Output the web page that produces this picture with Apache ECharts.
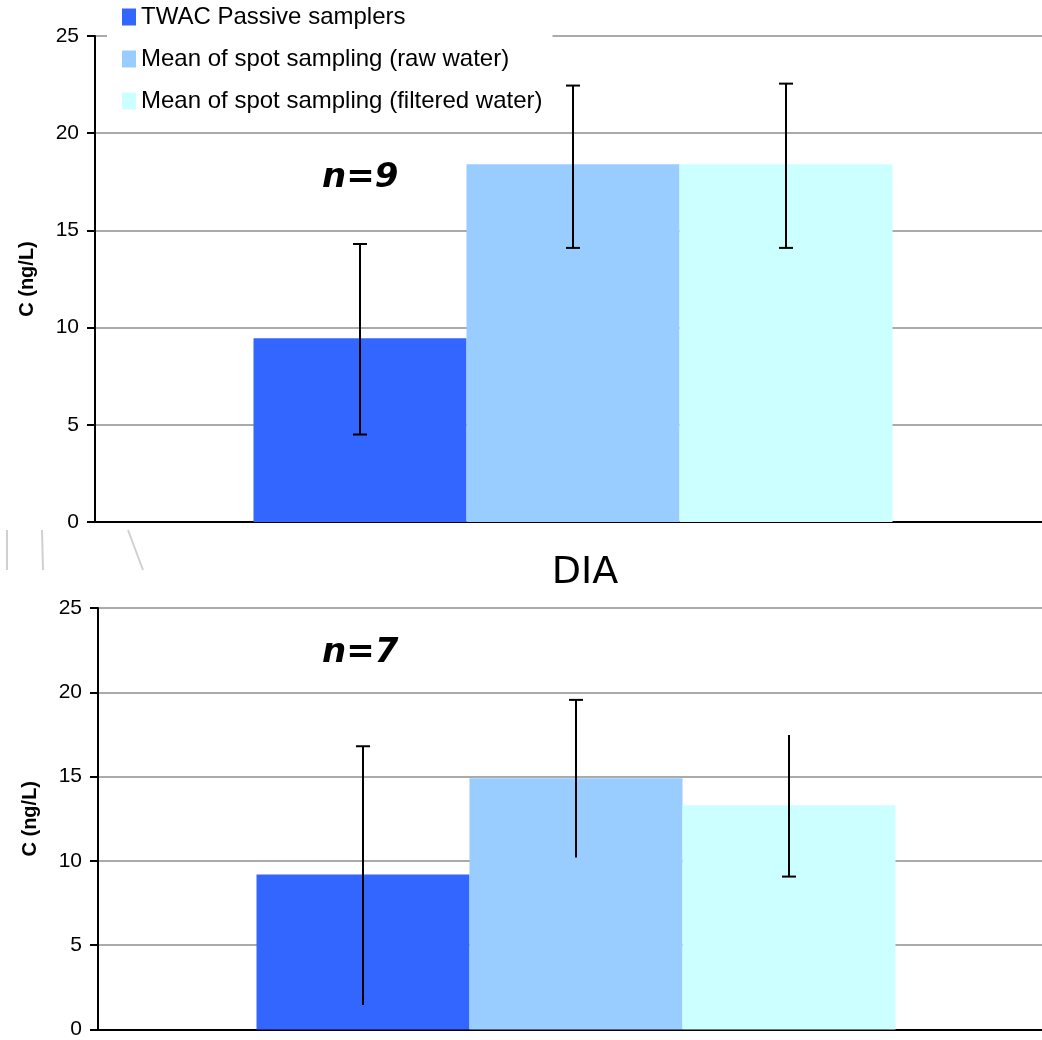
<!DOCTYPE html>
<html>
<head>
<meta charset="utf-8">
<script src="https://cdn.jsdelivr.net/npm/echarts@6/dist/echarts.min.js"></script>
<style>
  html, body { margin: 0; padding: 0; background: #fff; overflow: hidden; }
  body { width: 1042px; height: 1040px; }
  /* the plot area runs a little past the right edge of the page */
  #chart { width: 1080px; height: 1040px; }
</style>
</head>
<body>
<div id="chart"></div>
<script>
// Series shown in both panels
const seriesNames = [
  'TWAC Passive samplers',
  'Mean of spot sampling (raw water)',
  'Mean of spot sampling (filtered water)'
];
const yTicks = [0, 5, 10, 15, 20, 25];

// Upper panel (n=9)
const upperCategory = [''];
const upperMeans = [9.45, 18.4, 18.4];
const upperLow   = [4.5, 14.1, 14.1];
const upperHigh  = [14.3, 22.45, 22.55];
const upperCount = 'n=9';

// Lower panel: DIA (n=7)
const lowerTitle = 'DIA';
const lowerCategory = ['DIA'];
const lowerMeans = [9.2, 14.9, 13.3];
const lowerLow   = [1.46, 10.2, 9.07];
const lowerHigh  = [16.8, 19.55, 17.47];
const lowerCount = 'n=7';

// ---- styling ----
const colors = ['#3366ff', '#99ccff', '#ccffff'];
const BAR_W = 213;
// which error-bar ends carry a cap: [low, high]
const upperCaps = [[true, true], [true, true], [true, true]];
const lowerCaps = [[false, true], [false, true], [true, false]];

const chart = echarts.init(document.getElementById('chart'), null, { renderer: 'canvas' });

function yAxisFor(gridIndex) {
  return {
    type: 'value', gridIndex, min: yTicks[0], max: yTicks[yTicks.length - 1], interval: yTicks[1] - yTicks[0],
    name: 'C (ng/L)', nameLocation: 'middle', nameGap: 58,
    nameTextStyle: { fontFamily: 'Liberation Sans', fontWeight: 'bold', fontSize: 20, color: '#000' },
    axisLine: { show: true, lineStyle: { color: '#000', width: 2 } },
    axisTick: { show: true, length: 8, lineStyle: { color: '#000', width: 2 } },
    axisLabel: { fontFamily: 'Liberation Sans', fontSize: 21, color: '#000', margin: 16 },
    splitLine: { show: true, lineStyle: { color: '#aaaaaa', width: 2 } }
  };
}
function xAxisFor(gridIndex, cats) {
  return {
    type: 'category', gridIndex, data: cats,
    axisLine: { show: true, onZero: false, lineStyle: { color: '#000', width: 2 } },
    axisTick: { show: false }, axisLabel: { show: false }, splitLine: { show: false }
  };
}

function barSeries(gridIndex, means) {
  return seriesNames.map((name, i) => ({
    name, type: 'bar', xAxisIndex: gridIndex, yAxisIndex: gridIndex,
    data: [means[i]], barWidth: BAR_W, barGap: '0%',
    itemStyle: { color: colors[i] }, z: 2
  }));
}

function errorSeries(gridIndex, low, high, caps) {
  const data = low.map((l, i) => [0, l, high[i], i]);
  return {
    type: 'custom', xAxisIndex: gridIndex, yAxisIndex: gridIndex, z: 5,
    data,
    renderItem: function (params, api) {
      const idx = api.value(3);
      const lo = api.coord([api.value(0), api.value(1)]);
      const hi = api.coord([api.value(0), api.value(2)]);
      const x = lo[0] + (idx - 1) * BAR_W;
      const half = 7;
      const style = { stroke: '#000', lineWidth: 2 };
      const kids = [{ type: 'line', shape: { x1: x, y1: lo[1], x2: x, y2: hi[1] }, style }];
      if (caps[idx][0]) kids.push({ type: 'line', shape: { x1: x - half, y1: lo[1], x2: x + half, y2: lo[1] }, style });
      if (caps[idx][1]) kids.push({ type: 'line', shape: { x1: x - half, y1: hi[1], x2: x + half, y2: hi[1] }, style });
      return { type: 'group', children: kids };
    }
  };
}

const countFont = 'italic bold 34px "DejaVu Sans"';

chart.setOption({
  animation: false,
  backgroundColor: '#fff',
  title: {
    text: lowerTitle, left: 580, top: 549, textAlign: 'center',
    textStyle: { fontFamily: 'DejaVu Sans', fontWeight: 'normal', fontSize: 38, color: '#000' }
  },
  legend: {
    orient: 'vertical', left: 107, top: 0,
    padding: [4, 10, 10, 15],
    backgroundColor: '#fff',
    itemWidth: 14, itemHeight: 17, itemGap: 16, itemStyle: { borderWidth: 0 },
    icon: 'rect',
    data: seriesNames,
    textStyle: { fontFamily: 'Liberation Sans', fontSize: 24, color: '#000', lineHeight: 26 },
    selectedMode: false, z: 10
  },
  grid: [
    { left: 95, top: 36, width: 956, height: 486 },
    { left: 98, top: 608, width: 956, height: 427 }
  ],
  xAxis: [xAxisFor(0, upperCategory), xAxisFor(1, lowerCategory)],
  yAxis: [yAxisFor(0), yAxisFor(1)],
  series: [
    ...barSeries(0, upperMeans),
    ...barSeries(1, lowerMeans),
    errorSeries(0, upperLow, upperHigh, upperCaps),
    errorSeries(1, lowerLow, lowerHigh, lowerCaps)
  ],
  graphic: [
    { type: 'text', left: 322, top: 161, style: { text: upperCount, font: countFont, fill: '#000' }, z: 20 },
    { type: 'text', left: 322, top: 636, style: { text: lowerCount, font: countFont, fill: '#000' }, z: 20 },
    // faint strokes between the panels
    { type: 'line', shape: { x1: 7, y1: 530, x2: 7, y2: 570 }, style: { stroke: '#d0d0d0', lineWidth: 2 } },
    { type: 'line', shape: { x1: 42, y1: 530, x2: 43, y2: 570 }, style: { stroke: '#d0d0d0', lineWidth: 2 } },
    { type: 'line', shape: { x1: 128, y1: 530, x2: 143, y2: 570 }, style: { stroke: '#d0d0d0', lineWidth: 2 } }
  ]
});
</script>
</body>
</html>
